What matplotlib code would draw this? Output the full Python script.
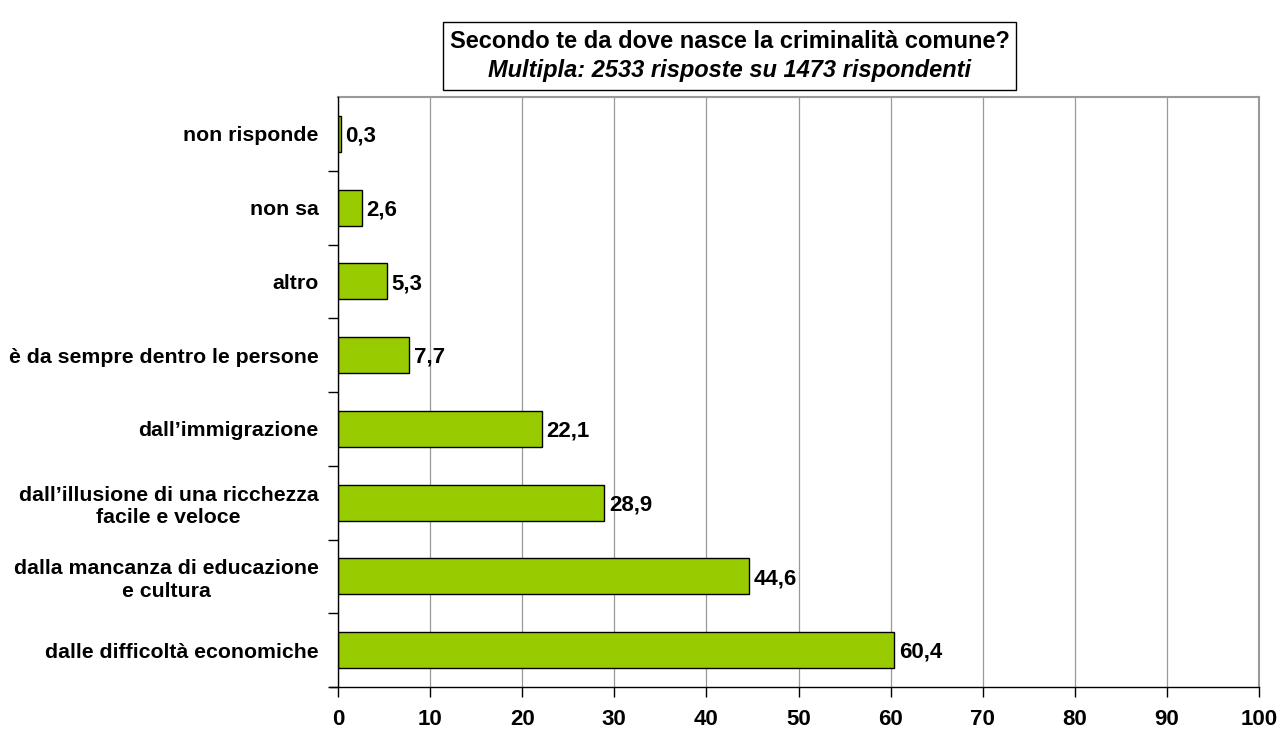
import matplotlib
matplotlib.use("Agg")
import matplotlib.pyplot as plt
from matplotlib.patches import Rectangle

categories = ["dalle difficoltà economiche",
              "dalla mancanza di educazione\ne cultura",
              "dall\u2019illusione di una ricchezza\nfacile e veloce",
              "dall\u2019immigrazione",
              "è da sempre dentro le persone",
              "altro",
              "non sa",
              "non risponde"]
values = [60.4, 44.6, 28.9, 22.1, 7.7, 5.3, 2.6, 0.3]
value_labels = ["60,4", "44,6", "28,9", "22,1", "7,7", "5,3", "2,6", "0,3"]
xticks = [0, 10, 20, 30, 40, 50, 60, 70, 80, 90, 100]

plt.rcParams['font.family'] = ['Liberation Sans', 'DejaVu Sans']
fig = plt.figure(figsize=(12.8, 7.34), dpi=100)
ax = fig.add_axes([338/1280, 1-687/734, (1259-338)/1280, (687-97)/734])

ypos = list(range(len(categories)))
ax.barh(ypos, values, height=0.49, color="#99CC00", edgecolor="black", linewidth=1, zorder=3)
for y, v, lab in zip(ypos, values, value_labels):
    ax.text(v + 0.5, y - 0.03, lab, va="center", ha="left", fontsize=16, fontweight="bold", zorder=4)

ax.set_xlim(0, 100)
ax.set_ylim(-0.5, len(categories) - 0.5)
ax.set_xticks(xticks)
ax.set_xticklabels([str(t) for t in xticks], fontsize=16, fontweight="bold")
ax.set_yticks(ypos)
ax.set_yticklabels(categories, fontsize=15.3, fontweight="bold", multialignment="center",
                   linespacing=1.25)
ax.tick_params(axis="y", length=0, pad=14)
ax.set_yticks([i - 0.5 for i in range(len(categories))], minor=True)
ax.tick_params(axis="y", which="minor", length=7, direction="out", width=1)
ax.tick_params(axis="x", length=7, direction="out", width=1, pad=9)
ax.grid(axis="x", color="#999999", linewidth=0.9, zorder=0)
for s in ["top", "right"]:
    ax.spines[s].set_color("#999999")
    ax.spines[s].set_linewidth(1.5)
ax.spines["left"].set_linewidth(1)
ax.spines["bottom"].set_linewidth(1)
ax.spines["bottom"].set_bounds(-0.9, 100)
ax.spines["bottom"].set_zorder(5)
ax.spines["left"].set_zorder(5)

fig.patches.append(Rectangle((443/1280, 1-90/734), (1016-443)/1280, (90-22)/734,
                             transform=fig.transFigure, facecolor="white",
                             edgecolor="black", linewidth=1))
fig.text(730/1280, 1-41/734, "Secondo te da dove nasce la criminalità comune?",
         ha="center", va="center", fontsize=17, fontweight="bold")
fig.text(730/1280, 1-70/734, "Multipla: 2533 risposte su 1473 rispondenti",
         ha="center", va="center", fontsize=17, fontweight="bold", style="italic")

fig.savefig("out.png", dpi=100)
